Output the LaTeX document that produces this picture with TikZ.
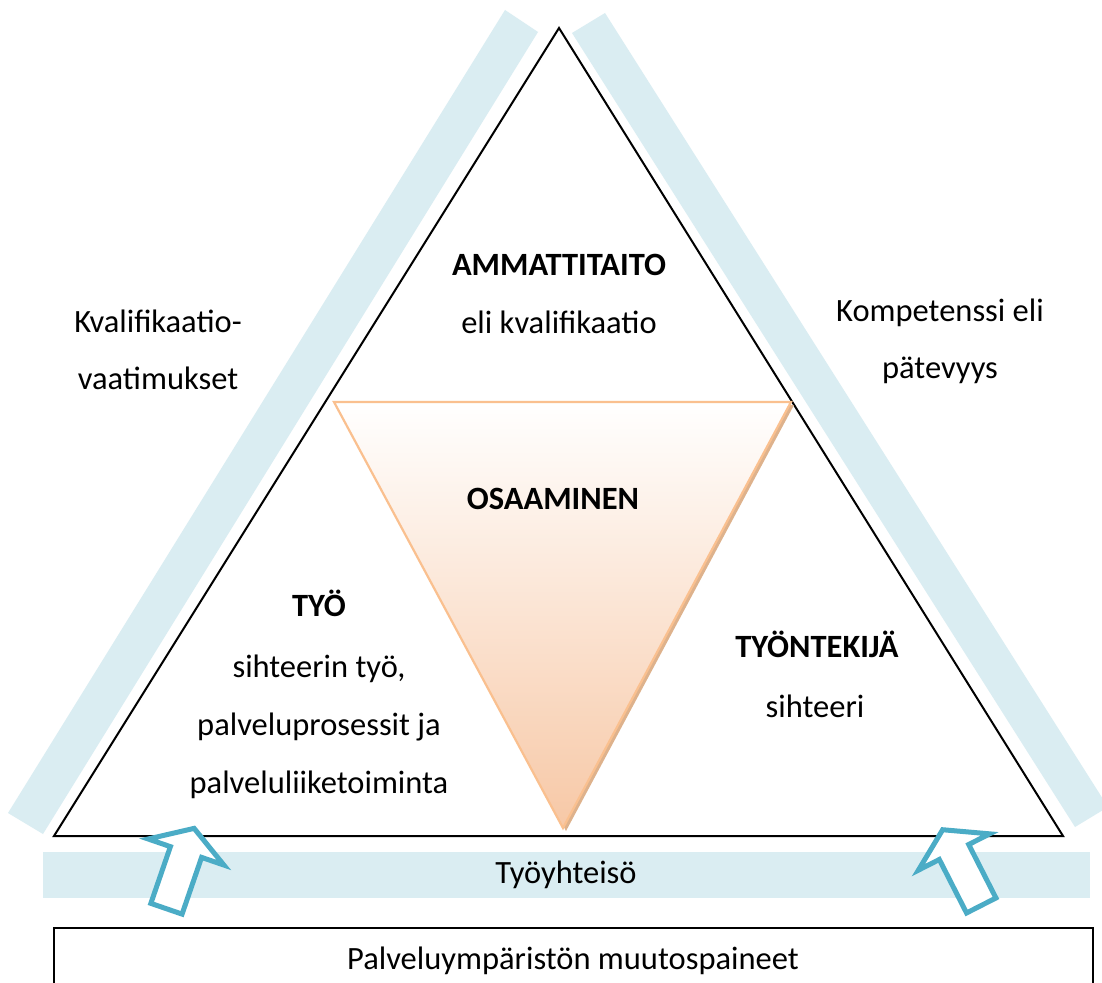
\documentclass[tikz,border=0pt]{standalone}
\usepackage{fontspec}
\setmainfont{Carlito}
\begin{document}
\begin{tikzpicture}[x=1pt,y=-1pt,
  band/.style={fill=bandblue,draw=none},
  edge/.style={draw=black,line width=2pt,line join=miter},
  lbl/.style={anchor=base,inner sep=0pt,font=\fontsize{32.5}{38}\selectfont},
  blbl/.style={lbl,font=\fontsize{32.5}{38}\selectfont\bfseries},
  hollowarrow/.style={draw=arrowblue,fill=white,line width=5pt,line join=miter,miter limit=10},
  uparrow/.pic={
    \path[hollowarrow] (0,-25) -- (40,0) -- (16.5,0) -- (16.5,60)
      -- (-16.5,60) -- (-16.5,0) -- (-40,0) -- cycle;
  }]
\definecolor{bandblue}{RGB}{218,237,242}
\definecolor{arrowblue}{RGB}{75,172,198}
\definecolor{coreline}{RGB}{250,192,143}
\definecolor{corefill}{RGB}{247,200,166}
\definecolor{coreshadow}{RGB}{222,178,140}
\useasboundingbox (0,0) rectangle (1102,982);
\fill[white] (0,0) rectangle (1102,982);

% slanted bands along the two sides
\path[band] (505,10) -- (538,32) -- (43,834) -- (8,813) -- cycle;
\path[band] (605,13) -- (572,33) -- (1075,827) -- (1108,807) -- cycle;

% outer triangle
\path[edge,fill=white] (559,28) -- (1063,836) -- (54,836) -- cycle;

% inner inverted triangle with its shadow
\fill[coreshadow] (337,405) -- (794,405) -- (566,831) -- cycle;
\path[draw=coreline,line width=2.2pt,line join=miter,top color=white,bottom color=corefill]
  (334,402) -- (791,402) -- (563,828) -- cycle;

% bottom band
\path[band] (43,852) rectangle (1090,898);

% environment box
\path[draw=black,line width=1.8pt,fill=white] (54,928) rectangle (1093,1000);

% pressure arrows
\pic[rotate=-19] at (186,852) {uparrow};
\pic[rotate=27] at (954,852) {uparrow};

% texts
\node[blbl] (ammatti) at (559,275) {AMMATTITAITO};
\node[lbl] (kvali) at (559,333) {eli kvalifikaatio};
\node[blbl] (osaaminen) at (553,509) {OSAAMINEN};
\node[blbl] (tyo) at (319,616) {TYÖ};
\node[lbl] (tyo1) at (319,677) {sihteerin työ,};
\node[lbl] (tyo2) at (319,735) {palveluprosessit ja};
\node[lbl] (tyo3) at (319,793) {palveluliiketoiminta};
\node[blbl] (tekija) at (817,657) {TYÖNTEKIJÄ};
\node[lbl] (sihteeri) at (815,717) {sihteeri};
\node[lbl] (vaat1) at (158,332) {Kvalifikaatio-};
\node[lbl] (vaat2) at (158,389) {vaatimukset};
\node[lbl] (komp1) at (940,321) {Kompetenssi eli};
\node[lbl] (komp2) at (940,378) {pätevyys};
\node[lbl] (yhteiso) at (566,883) {Työyhteisö};
\node[lbl] (paineet) at (573,969) {Palveluympäristön muutospaineet};
\end{tikzpicture}
\end{document}
